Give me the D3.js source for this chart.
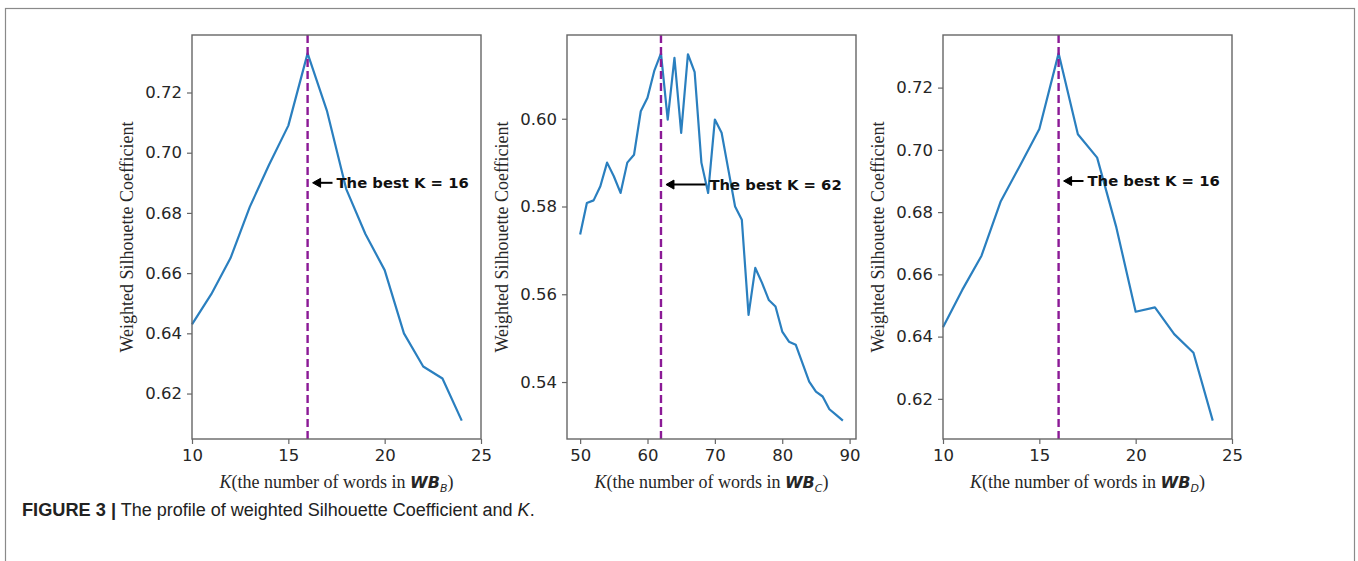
<!DOCTYPE html>
<html>
<head>
<meta charset="utf-8">
<script src="https://cdn.jsdelivr.net/npm/d3@7"></script>
<style>
  body { margin: 0; background: #fff; }
  svg { display: block; }
</style>
</head>
<body>
<div id="chart"></div>
<script>
// K values and weighted silhouette coefficient for each word bank
var kB = [10, 11, 12, 13, 14, 15, 16, 17, 18, 19, 20, 21, 22, 23, 24];
var silB = [0.643, 0.653, 0.665, 0.682, 0.696, 0.709, 0.733, 0.714, 0.688, 0.673, 0.661, 0.640, 0.629, 0.625, 0.611];

var kC = [50, 51, 52, 53, 54, 55, 56, 57, 58, 59, 60, 61, 62, 63, 64, 65, 66, 67, 68, 69,
          70, 71, 72, 73, 74, 75, 76, 77, 78, 79, 80, 81, 82, 83, 84, 85, 86, 87, 88, 89];
var silC = [0.5736, 0.5808, 0.5814, 0.5846, 0.5900, 0.5869, 0.5831, 0.5900, 0.5918, 0.6017,
            0.6048, 0.6109, 0.6149, 0.5998, 0.6139, 0.5968, 0.6147, 0.6106, 0.5900, 0.5831,
            0.5998, 0.5968, 0.5884, 0.5800, 0.5770, 0.5553, 0.5660, 0.5626, 0.5587, 0.5572,
            0.5515, 0.5492, 0.5485, 0.5443, 0.5401, 0.5378, 0.5367, 0.5338, 0.5325, 0.5312];

var kD = [10, 11, 12, 13, 14, 15, 16, 17, 18, 19, 20, 21, 22, 23, 24];
var silD = [0.643, 0.655, 0.666, 0.6835, 0.695, 0.7067, 0.731, 0.705, 0.6975, 0.675, 0.648, 0.6494, 0.6408, 0.6348, 0.613];

// tick labels
var xTicksB = [10, 15, 20, 25];
var xTicksC = [50, 60, 70, 80, 90];
var yTicksB = [0.62, 0.64, 0.66, 0.68, 0.70, 0.72];
var yTicksC = [0.54, 0.56, 0.58, 0.60];

// best K and annotation anchors
var bestK = [16, 62, 16];
var arrowY = [0.690, 0.585, 0.690];
var textK = [17.5, 69.2, 17.5];
var subs = ["B", "C", "D"];

var W = 1358, H = 561;
var plotTop = 35, plotH = 404, plotW = 289;
var lefts = [192, 567, 943];

var svg = d3.select("#chart").append("svg")
    .attr("width", W)
    .attr("height", H);

// outer figure frame
svg.append("rect")
    .attr("x", 5.5).attr("y", 8.5)
    .attr("width", W - 9).attr("height", H + 40)
    .attr("fill", "none")
    .attr("stroke", "#8a8a8a")
    .attr("stroke-width", 1.2);

function drawPanel(i, ks, vals, xDomain, xTicks, yTicks) {
  var g = svg.append("g")
      .attr("transform", "translate(" + lefts[i] + "," + plotTop + ")");

  // matplotlib style 5% margin on y
  var ext = d3.extent(vals);
  var pad = (ext[1] - ext[0]) * 0.05;
  var x = d3.scaleLinear().domain(xDomain).range([0, plotW]);
  var y = d3.scaleLinear().domain([ext[0] - pad, ext[1] + pad]).range([plotH, 0]);

  // x axis
  var xa = g.append("g")
      .attr("transform", "translate(0," + plotH + ")")
      .call(d3.axisBottom(x).tickValues(xTicks).tickFormat(d3.format("d")).tickSize(5).tickPadding(5));
  // y axis
  var ya = g.append("g")
      .call(d3.axisLeft(y).tickValues(yTicks).tickFormat(d3.format(".2f")).tickSize(5).tickPadding(5));

  [xa, ya].forEach(function(a) {
    a.select(".domain").remove();
    a.selectAll("line").attr("stroke", "#666").attr("stroke-width", 1.2);
    a.selectAll("text")
      .style("font-family", "'DejaVu Sans', sans-serif")
      .style("font-size", "16.5px")
      .attr("fill", "#262626");
  });

  // data line
  var line = d3.line()
      .x(function(d, j) { return x(ks[j]); })
      .y(function(d) { return y(d); });
  g.append("path")
      .datum(vals)
      .attr("d", line)
      .attr("fill", "none")
      .attr("stroke", "#2a7fbf")
      .attr("stroke-width", 2.2)
      .attr("stroke-linejoin", "round");

  // best K marker
  g.append("line")
      .attr("x1", x(bestK[i])).attr("x2", x(bestK[i]))
      .attr("y1", 0).attr("y2", plotH)
      .attr("stroke", "#8b1a96")
      .attr("stroke-width", 2.4)
      .attr("stroke-dasharray", "8,4");

  // spines
  g.append("rect")
      .attr("width", plotW).attr("height", plotH)
      .attr("fill", "none")
      .attr("stroke", "#666")
      .attr("stroke-width", 1.4);

  // annotation arrow + text
  var tipX = x(bestK[i]) + 5, ay = y(arrowY[i]);
  var tailX = x(textK[i]) - 4;
  g.append("line")
      .attr("x1", tailX).attr("x2", tipX + 2)
      .attr("y1", ay).attr("y2", ay)
      .attr("stroke", "#000").attr("stroke-width", 2);
  g.append("path")
      .attr("d", "M" + (tipX + 8) + "," + (ay - 4.5) + "L" + tipX + "," + ay + "L" + (tipX + 8) + "," + (ay + 4.5) + "Z")
      .attr("fill", "#000")
      .attr("stroke", "#000").attr("stroke-width", 1);
  g.append("text")
      .attr("x", x(textK[i]))
      .attr("y", ay)
      .attr("dy", "0.35em")
      .style("font-family", "'DejaVu Sans', sans-serif")
      .style("font-weight", "bold")
      .style("font-size", "14.8px")
      .attr("fill", "#111")
      .text("The best K = " + bestK[i]);

  // y label
  g.append("text")
      .attr("transform", "translate(-65," + (plotH / 2) + ")rotate(-90)")
      .attr("text-anchor", "middle")
      .attr("dy", "0.35em")
      .style("font-family", "'Liberation Serif', 'Times New Roman', serif")
      .style("font-size", "18px")
      .attr("fill", "#262626")
      .text("Weighted Silhouette Coefficient");

  // x label: K(the number of words in WB_sub)
  var xl = g.append("text")
      .attr("x", plotW / 2)
      .attr("y", plotH + 49)
      .attr("text-anchor", "middle")
      .style("font-family", "'Liberation Serif', 'Times New Roman', serif")
      .style("font-size", "18px")
      .attr("fill", "#262626");
  xl.append("tspan").style("font-style", "italic").text("K");
  xl.append("tspan").text("(the number of words in ");
  xl.append("tspan")
      .style("font-family", "'DejaVu Sans', sans-serif")
      .style("font-weight", "bold")
      .style("font-style", "italic")
      .style("font-size", "16px")
      .text("WB");
  xl.append("tspan")
      .attr("dy", 4)
      .style("font-family", "'DejaVu Sans', sans-serif")
      .style("font-style", "italic")
      .style("font-size", "11px")
      .text(subs[i]);
  xl.append("tspan").attr("dy", -4).text(")");
}

drawPanel(0, kB, silB, [10, 25], xTicksB, yTicksB);
var padC = (kC[kC.length - 1] - kC[0]) * 0.05;
drawPanel(1, kC, silC, [kC[0] - padC, kC[kC.length - 1] + padC], xTicksC, yTicksC);
drawPanel(2, kD, silD, [10, 25], xTicksB, yTicksB);

// caption
var cap = svg.append("text")
    .attr("x", 22)
    .attr("y", 516)
    .style("font-family", "'Liberation Sans', Arial, sans-serif")
    .style("font-size", "18px")
    .attr("fill", "#222");
cap.append("tspan")
    .style("font-weight", "bold")
    .style("font-family", "'Liberation Sans Narrow', 'Liberation Sans', sans-serif")
    .attr("textLength", 94)
    .attr("lengthAdjust", "spacingAndGlyphs")
    .text("FIGURE 3 |");
cap.append("tspan").text(" The profile of weighted Silhouette Coefficient and ");
cap.append("tspan").style("font-style", "italic").text("K");
cap.append("tspan").text(".");
</script>
</body>
</html>
